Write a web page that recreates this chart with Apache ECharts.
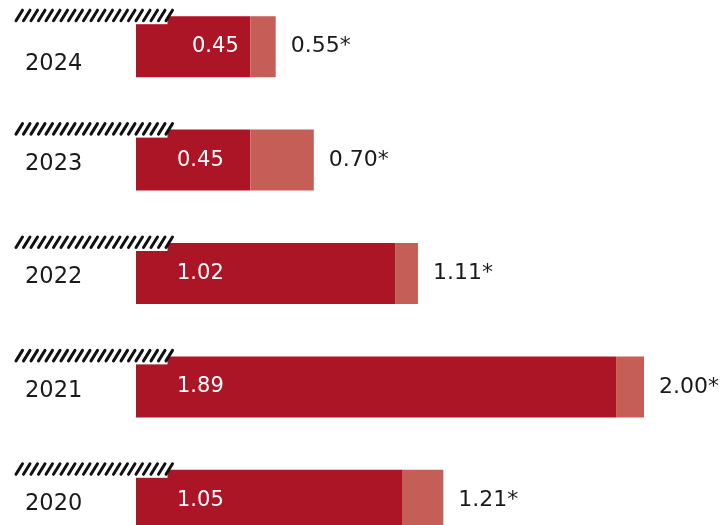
<!DOCTYPE html>
<html>
<head>
<meta charset="utf-8">
<script src="https://cdn.jsdelivr.net/npm/echarts@6/dist/echarts.min.js"></script>
<style>
  html, body { margin: 0; padding: 0; background: #ffffff; }
  #chart { width: 725px; height: 525px; }
</style>
</head>
<body>
<div id="chart"></div>
<script>
// ---- data ----
const years = ['2020', '2021', '2022', '2023', '2024'];
const mainValues = [1.05, 1.89, 1.02, 0.45, 0.45];
const totalValues = [1.21, 2.00, 1.11, 0.70, 0.55];

// ---- styles ----
const DARK = '#AB1526';
const LIGHT = '#C45E56';
const TEXT = '#1a1a1a';
const FONT = 'DejaVu Sans';
const BAR_H = 61;

const extraValues = totalValues.map((t, i) => +(t - mainValues[i]).toFixed(2));

const chart = echarts.init(document.getElementById('chart'), null, { renderer: 'canvas' });

const innerLabelDist = { '2024': 56 };

const option = {
  animation: false,
  backgroundColor: '#ffffff',
  grid: { left: 136, top: -10, width: 635, height: 567, containLabel: false, outerBoundsMode: 'none' },
  xAxis: {
    type: 'value', min: 0, max: 2.5,
    show: false
  },
  yAxis: {
    type: 'category',
    data: years,
    axisLine: { show: false },
    axisTick: { show: false },
    axisLabel: {
      align: 'left',
      margin: 111,
      color: TEXT,
      fontFamily: FONT,
      fontSize: 22.5,
      formatter: v => (v === '2024' ? '{low|' + v + '}' : '{n|' + v + '}'),
      rich: {
        low: { color: TEXT, fontFamily: FONT, fontSize: 22.5, padding: [34, 0, 0, 0] },
        n: { color: TEXT, fontFamily: FONT, fontSize: 22.5, padding: [8, 0, 0, 0] }
      }
    }
  },
  series: [
    {
      type: 'bar',
      stack: 'a',
      barWidth: BAR_H,
      itemStyle: { color: DARK },
      label: {
        show: true,
        position: 'insideLeft',
        distance: 41,
        color: '#ffffff',
        fontFamily: FONT,
        fontSize: 21,
        formatter: p => mainValues[p.dataIndex].toFixed(2)
      },
      data: mainValues.map((v, i) => {
        const d = { value: v };
        if (innerLabelDist[years[i]]) d.label = { distance: innerLabelDist[years[i]] };
        return d;
      }),
      z: 2
    },
    {
      type: 'bar',
      stack: 'a',
      barWidth: BAR_H,
      itemStyle: { color: LIGHT },
      label: {
        show: true,
        position: 'right',
        distance: 15,
        color: TEXT,
        fontFamily: FONT,
        fontSize: 22,
        formatter: p => totalValues[p.dataIndex].toFixed(2) + '*'
      },
      data: extraValues,
      z: 2
    },
    {
      type: 'custom',
      z: 10,
      clip: false,
      silent: true,
      data: years.map((y, i) => [0, i]),
      encode: { x: 0, y: 1 },
      renderItem: function (params, api) {
        const origin = api.coord([0, api.value(1)]);
        const x0 = origin[0];
        const barTop = origin[1] - BAR_H / 2;
        const children = [];
        // white notch over the bar's top-left corner
        children.push({
          type: 'rect',
          shape: { x: x0, y: barTop - 1, width: 31.5, height: 9 },
          style: { fill: '#ffffff' }
        });
        const n = 21;
        const startX = x0 - 120;
        const step = 7.5;
        for (let k = 0; k < n; k++) {
          const bx = startX + k * step;
          children.push({
            type: 'line',
            shape: { x1: bx, y1: barTop + 4.5, x2: bx + 6.5, y2: barTop - 6 },
            style: { stroke: '#111111', lineWidth: 3, lineCap: 'round' }
          });
        }
        return { type: 'group', children: children };
      }
    }
  ]
};

chart.setOption(option);
</script>
</body>
</html>
